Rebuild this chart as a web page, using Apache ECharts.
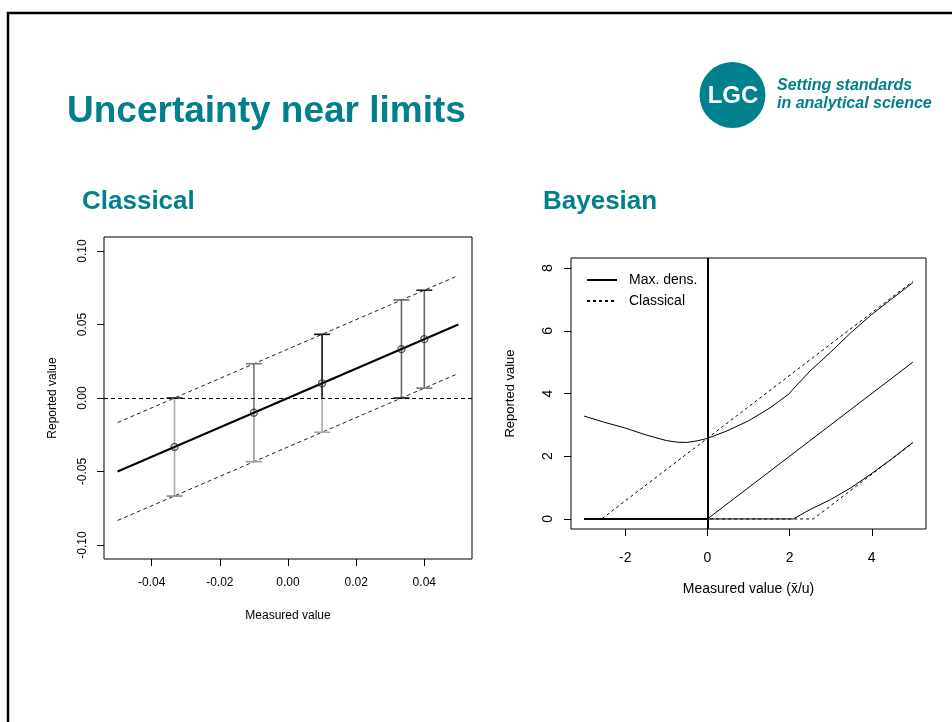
<!DOCTYPE html>
<html><head><meta charset="utf-8">
<script src="https://cdn.jsdelivr.net/npm/echarts@6/dist/echarts.min.js"></script>
<style>html,body{margin:0;padding:0;background:#fff}#c{width:952px;height:722px}</style>
</head><body><div id="c"></div>
<script>
// ---------- Left panel: Classical ----------
const classicalLineX = [-0.05, 0.05];
const classicalLineY = [-0.05, 0.05];
const upperBandY = [-0.0167, 0.0833];
const lowerBandY = [-0.0833, 0.0167];
const pointX = [-0.0333, -0.01, 0.01, 0.0333, 0.04];
const pointY = [-0.0333, -0.01, 0.01, 0.0333, 0.04];
const errLow = [-0.0667, -0.0433, -0.0233, 0.0, 0.0067];
const errHigh = [0.0, 0.0233, 0.0433, 0.0667, 0.0733];
const errSplit = [-0.0333, -0.01, 0.0, 0.0333, 0.04];
const leftXTicks = [-0.04, -0.02, 0.00, 0.02, 0.04];
const leftYTicks = [-0.10, -0.05, 0.00, 0.05, 0.10];

// ---------- Right panel: Bayesian ----------
const mdUpperX = [-3, -2.5, -2, -1.5, -1, -0.75, -0.5, -0.25, 0, 0.5, 1, 1.5, 2, 2.05, 2.5, 3, 3.5, 4, 4.5, 5];
const mdUpperY = [3.28, 3.08, 2.9, 2.68, 2.5, 2.45, 2.44, 2.49, 2.57, 2.82, 3.13, 3.52, 4.0, 4.09, 4.72, 5.32, 5.95, 6.52, 7.03, 7.53];
const mdMidX = [-3, 0, 5];
const mdMidY = [0, 0, 5];
const mdLowerX = [-3, 2.09, 2.5, 3, 3.5, 4, 4.5, 5];
const mdLowerY = [0, 0, 0.3, 0.62, 1.0, 1.45, 1.93, 2.44];
const clUpperX = [-3, -2.576, 5];
const clUpperY = [0, 0, 7.576];
const clLowerX = [-3, 2.576, 5];
const clLowerY = [0, 0, 2.424];
const zeroSegX = [-3, 0];
const zeroSegY = [0, 0];
const rightXTicks = [-2, 0, 2, 4];
const rightYTicks = [0, 2, 4, 6, 8];

// ---------- styles ----------
const FONT = "'Liberation Sans', Arial, sans-serif";
const TEAL = '#00808c';
const upperColor = ['#aaaaaa', '#777777', '#111111', '#666666', '#666666'];
const lowerColor = ['#aaaaaa', '#999999', '#aaaaaa', '#666666', '#666666'];
const topCapColor = ['#222222', '#777777', '#111111', '#666666', '#222222'];
const botCapColor = ['#888888', '#999999', '#aaaaaa', '#222222', '#777777'];

const zip = (xs, ys) => xs.map((x, i) => [x, ys[i]]);

function valueAxis(o) {
  return {
    type: 'value', gridIndex: o.grid, min: o.min, max: o.max,
    name: o.name, nameLocation: 'middle', nameGap: o.nameGap,
    nameTextStyle: { fontFamily: FONT, fontSize: o.nameSize, color: '#000' },
    axisLine: { show: false, onZero: false },
    axisTick: { show: true, inside: false, length: 7, customValues: o.ticks, lineStyle: { color: '#000', width: 1 } },
    axisLabel: { show: true, customValues: o.ticks, rotate: o.rotate || 0, margin: o.margin,
      fontFamily: FONT, fontSize: o.labelSize, color: '#000', formatter: o.fmt },
    splitLine: { show: false }
  };
}

function lineSeries(xs, ys, axis, style, name) {
  return {
    type: 'line', name: name, xAxisIndex: axis, yAxisIndex: axis,
    data: zip(xs, ys), symbol: 'none', silent: true, z: 3,
    itemStyle: { color: '#000' },
    lineStyle: style
  };
}

const chart = echarts.init(document.getElementById('c'), null, { renderer: 'canvas' });

const option = {
  animation: false,
  backgroundColor: '#fff',
  grid: [
    { left: 104, top: 237, width: 368, height: 322, show: true, borderColor: '#000', borderWidth: 1, backgroundColor: 'transparent' },
    { left: 571, top: 258, width: 355, height: 271, show: true, borderColor: '#000', borderWidth: 1, backgroundColor: 'transparent' }
  ],
  xAxis: [
    valueAxis({ grid: 0, min: -0.054, max: 0.054, ticks: leftXTicks, fmt: v => v.toFixed(2), labelSize: 12, margin: 18,
      name: 'Measured value', nameGap: 51, nameSize: 12 }),
    valueAxis({ grid: 1, min: -3.32, max: 5.32, ticks: rightXTicks, fmt: v => String(v), labelSize: 14, margin: 22,
      name: 'Measured value (x\u0304/u)', nameGap: 53, nameSize: 14 })
  ],
  yAxis: [
    valueAxis({ grid: 0, min: -0.1095, max: 0.1095, ticks: leftYTicks, fmt: v => v.toFixed(2), labelSize: 12, margin: 15, rotate: 90,
      name: 'Reported value', nameGap: 45, nameSize: 12 }),
    valueAxis({ grid: 1, min: -0.32, max: 8.32, ticks: rightYTicks, fmt: v => String(v), labelSize: 14, margin: 16, rotate: 90,
      name: 'Reported value', nameGap: 54, nameSize: 13 })
  ],
  legend: {
    show: true, data: ['Max. dens.', 'Classical'], left: 581, top: 268, orient: 'vertical',
    itemWidth: 30, itemHeight: 10, itemGap: 7, selectedMode: false,
    itemStyle: { color: 'rgba(0,0,0,0)', borderColor: 'rgba(0,0,0,0)', borderWidth: 0, opacity: 0 },
    textStyle: { fontFamily: FONT, fontSize: 14, color: '#000', padding: [0, 0, 0, 7] }
  },
  series: [
    // left: bands
    lineSeries(classicalLineX, upperBandY, 0, { color: '#222', width: 1, type: [4, 3] }),
    lineSeries(classicalLineX, lowerBandY, 0, { color: '#222', width: 1, type: [4, 3] }),
    // left: error bars
    {
      type: 'custom', xAxisIndex: 0, yAxisIndex: 0, silent: true, z: 4,
      data: pointX.map((x, i) => [x, errLow[i], errHigh[i], errSplit[i]]),
      encode: { x: 0, y: [1, 2] },
      renderItem: function (params, api) {
        const i = params.dataIndex;
        const x = api.value(0);
        const pLo = api.coord([x, api.value(1)]);
        const pHi = api.coord([x, api.value(2)]);
        const pSp = api.coord([x, api.value(3)]);
        const cap = 8;
        return {
          type: 'group', children: [
            { type: 'line', shape: { x1: pLo[0], y1: pLo[1], x2: pSp[0], y2: pSp[1] }, style: { stroke: lowerColor[i], lineWidth: 1.6 } },
            { type: 'line', shape: { x1: pSp[0], y1: pSp[1], x2: pHi[0], y2: pHi[1] }, style: { stroke: upperColor[i], lineWidth: 1.6 } },
            { type: 'line', shape: { x1: pHi[0] - cap, y1: pHi[1], x2: pHi[0] + cap, y2: pHi[1] }, style: { stroke: topCapColor[i], lineWidth: 1.6 } },
            { type: 'line', shape: { x1: pLo[0] - cap, y1: pLo[1], x2: pLo[0] + cap, y2: pLo[1] }, style: { stroke: botCapColor[i], lineWidth: 1.6 } }
          ]
        };
      }
    },
    // left: main line with zero reference line
    Object.assign(lineSeries(classicalLineX, classicalLineY, 0, { color: '#000', width: 2, type: 'solid' }), {
      z: 5,
      markLine: {
        silent: true, symbol: ['none', 'none'], label: { show: false },
        lineStyle: { color: '#000', width: 1, type: [4, 3] },
        data: [{ yAxis: 0 }]
      }
    }),
    // left: points
    {
      type: 'scatter', xAxisIndex: 0, yAxisIndex: 0, silent: true, z: 6,
      data: zip(pointX, pointY), symbol: 'circle', symbolSize: 7,
      itemStyle: { color: 'rgba(0,0,0,0)', borderColor: '#333', borderWidth: 1.3 }
    },
    // right: Bayesian max density curves
    Object.assign(lineSeries(mdUpperX, mdUpperY, 1, { color: '#000', width: 1, type: 'solid' }, 'Max. dens.'), {
      markLine: {
        silent: true, symbol: ['none', 'none'], label: { show: false },
        lineStyle: { color: '#000', width: 2, type: 'solid' },
        data: [{ xAxis: 0 }]
      }
    }),
    lineSeries(mdMidX, mdMidY, 1, { color: '#000', width: 1, type: 'solid' }, 'Max. dens.'),
    lineSeries(mdLowerX, mdLowerY, 1, { color: '#000', width: 1, type: 'solid' }, 'Max. dens.'),
    // right: classical limits
    lineSeries(clUpperX, clUpperY, 1, { color: '#000', width: 1, type: [3, 3] }, 'Classical'),
    lineSeries(clLowerX, clLowerY, 1, { color: '#000', width: 1, type: [3, 3] }, 'Classical'),
    lineSeries(zeroSegX, zeroSegY, 1, { color: '#000', width: 2, type: 'solid' }, 'zero')
  ],
  graphic: [
    { type: 'rect', shape: { x: 8, y: 13, width: 980, height: 740 }, style: { fill: 'none', stroke: '#000', lineWidth: 2.5 }, silent: true },
    { type: 'text', x: 67, y: 112, style: { text: 'Uncertainty near limits', font: "bold 37px 'Liberation Sans', Arial, sans-serif", fill: TEAL, align: 'left', verticalAlign: 'middle' } },
    { type: 'text', x: 82, y: 202, style: { text: 'Classical', font: "bold 26px 'Liberation Sans', Arial, sans-serif", fill: TEAL, align: 'left', verticalAlign: 'middle' } },
    { type: 'text', x: 543, y: 202, style: { text: 'Bayesian', font: "bold 26px 'Liberation Sans', Arial, sans-serif", fill: TEAL, align: 'left', verticalAlign: 'middle' } },
    { type: 'circle', shape: { cx: 732.5, cy: 95, r: 33 }, style: { fill: TEAL }, silent: true },
    { type: 'text', x: 733, y: 96, style: { text: 'LGC', font: "bold 24px 'Liberation Sans', Arial, sans-serif", fill: '#fff', align: 'center', verticalAlign: 'middle' } },
    { type: 'text', x: 777, y: 86, style: { text: 'Setting standards', font: "italic bold 16px 'Liberation Sans', Arial, sans-serif", fill: TEAL, align: 'left', verticalAlign: 'middle' } },
    { type: 'text', x: 777, y: 104, style: { text: 'in analytical science', font: "italic bold 16px 'Liberation Sans', Arial, sans-serif", fill: TEAL, align: 'left', verticalAlign: 'middle' } }
  ]
};
chart.setOption(option);
</script>
</body></html>
